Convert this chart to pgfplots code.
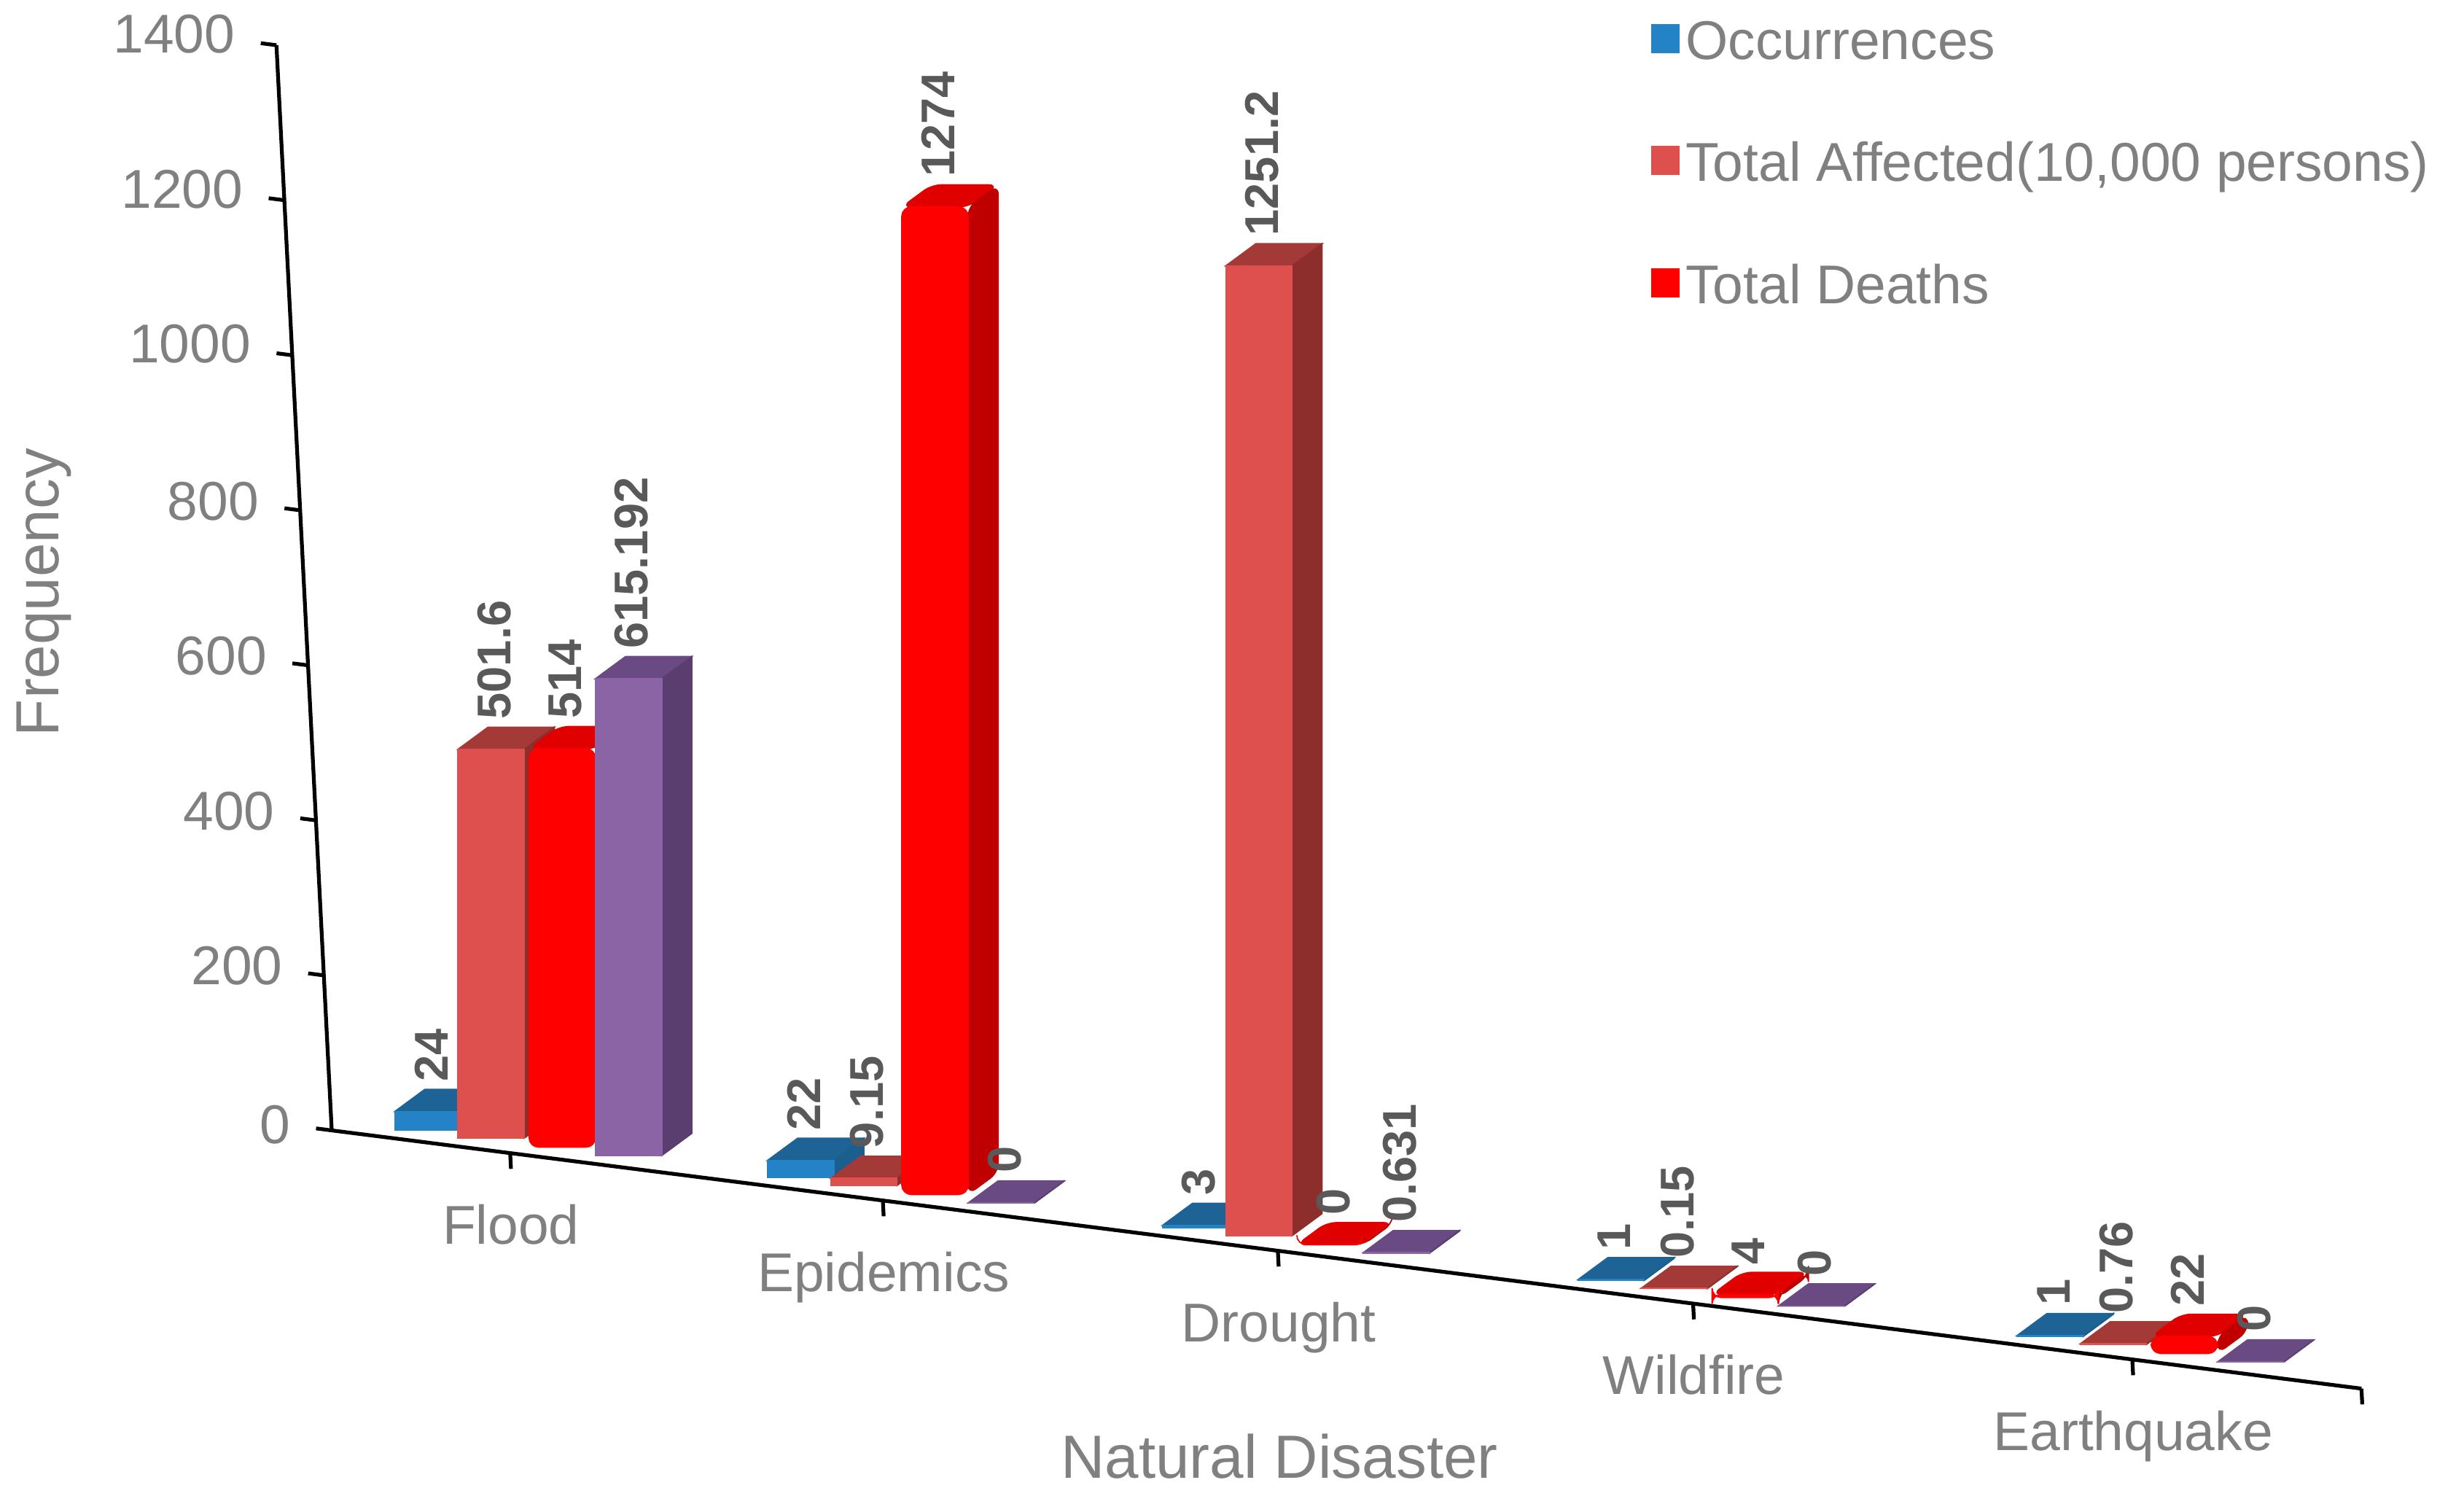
\documentclass[border=0pt]{standalone}
\usepackage{pgfplots}
\usepackage{pgfplotstable}
\pgfplotsset{compat=1.18}
\usepackage{fontspec}
\setmainfont{Liberation Sans}
\definecolor{occF}{HTML}{2383C6}
\definecolor{occS}{HTML}{1B5F8E}
\definecolor{occT}{HTML}{1D6396}
\definecolor{affF}{HTML}{DD504D}
\definecolor{affS}{HTML}{8E2E2C}
\definecolor{affT}{HTML}{A33A38}
\definecolor{deaF}{HTML}{FF0000}
\definecolor{deaS}{HTML}{C00000}
\definecolor{deaT}{HTML}{E00000}
\definecolor{ecoF}{HTML}{8A64A5}
\definecolor{ecoS}{HTML}{5A3E70}
\definecolor{ecoT}{HTML}{6A4A82}
\definecolor{tickgray}{HTML}{808080}
\definecolor{labgray}{HTML}{595959}

\pgfdeclareplotmark{empty}{}

\pgfplotstableread{
x occ aff dea eco
0 24 501.6 514 615.192
0.919 22 9.15 1274 0
1.893 3 1251.2 0 0.631
2.917 1 0.15 4 0
4 1 0.76 22 0
}\data

% #1 column, #2 front, #3 side, #4 top, #5 offset (x units), #6 extra style
\newcommand\barseries[6]{%
  \addplot[scatter, only marks, mark=empty, fill=#2, draw=#2, point meta=y,
    visualization depends on={rawy \as \barh},
    scatter/@pre marker code/.code={%
      \pgfmathsetlengthmacro\hh{\barh*0.24536pt}%
      \pgfmathsetlengthmacro\xa{\barh*0.0125pt-10.5pt}%
      \pgfmathsetlengthmacro\xb{\barh*0.0125pt+10.5pt}%
      \pgfmathsetlengthmacro\yb{4pt-\hh}%
      \fill[#4,#6] (\xa,4pt) -- ++(9.5pt,7pt) -- ++(21pt,0pt) -- (\xb,4pt) -- cycle;
      \fill[#3,#6] (\xb,4pt) -- ++(9.5pt,7pt) -- ++(0pt,-\hh) -- (\xb,\yb) -- cycle;
      \fill[#2,#6] (\xa,4pt) rectangle (\xb,\yb);
    },
    scatter/@post marker code/.code={}]
    table[x expr=\thisrow{x}+#5, y=#1] {\data};
}
\newcommand\labelseries[2]{%
  \addplot[forget plot, only marks, mark=none, nodes near coords,
    point meta=explicit symbolic]
    table[x expr=\thisrow{x}+#2+\thisrow{#1}*0.000097371,
          y expr=\thisrow{#1}*1.00648, meta=#1] {\data};
}

\begin{document}
\begin{tikzpicture}
\begin{axis}[
  x={(128.375pt,-16.33pt)}, y={(-0.0125pt,0.24536pt)},
  xmin=-0.44, xmax=4.565, ymin=0, ymax=1400,
  axis x line*=bottom, axis y line*=left,
  axis line style={line width=1.2pt, black},
  xtick={0,0.919,1.893,2.917,4},
  xticklabels={Flood,Epidemics,Drought,Wildfire,Earthquake},
  extra x ticks={4.565}, extra x tick labels={},
  ytick={0,200,...,1400},
  yticklabels={0,200,400,600,800,1000,1200,1400},
  tick align=outside, major tick length=5pt,
  tick style={line width=1.2pt, black},
  ticklabel style={font=\fontsize{17.3}{20}\selectfont, text=tickgray},
  xticklabel style={anchor=base, yshift=-23.8pt},
  yticklabel style={xshift=-4.5pt},
  clip=false,
  xlabel={Natural Disaster}, ylabel={Frequency},
  label style={font=\fontsize{19.3}{22}\selectfont, text=tickgray},
  xlabel style={at={(axis cs:1.8708,-266.8)}, anchor=center},
  ylabel style={at={(axis cs:-1.0856,651.2)}, anchor=center},
  every node near coord/.append style={xshift=1pt, yshift=10pt, rotate=90, anchor=west,
    font=\fontsize{15}{18}\selectfont\bfseries, text=labgray},
  legend style={at={(axis cs:2.952,1675.9)}, anchor=north west,
    draw=none, fill=none, font=\fontsize{17.3}{20}\selectfont, text=tickgray,
    row sep=18.6pt, nodes={text height=12.5pt, text depth=3.6pt}},
  legend cell align=left,
  legend image code/.code={\fill[#1] (0pt,-2.3pt) rectangle (8.5pt,6.5pt);},
]
\barseries{occ}{occF}{occS}{occT}{-0.2025}{}
\barseries{aff}{affF}{affS}{affT}{-0.0467}{}
\barseries{dea}{deaF}{deaS}{deaT}{0.1285}{rounded corners=3pt}
\barseries{eco}{ecoF}{ecoS}{ecoT}{0.2921}{}
\labelseries{occ}{-0.2025}
\labelseries{aff}{-0.0467}
\labelseries{dea}{0.1285}
\labelseries{eco}{0.2921}
\legend{Occurrences,Total Affected(10{,}000 persons),Total Deaths}
\coordinate (O) at (axis cs:0,0);
\end{axis}
\pgfresetboundingbox
\path (O) ++(-161.5pt,-108.5pt) rectangle ++(780pt,473.5pt);
\end{tikzpicture}
\end{document}
